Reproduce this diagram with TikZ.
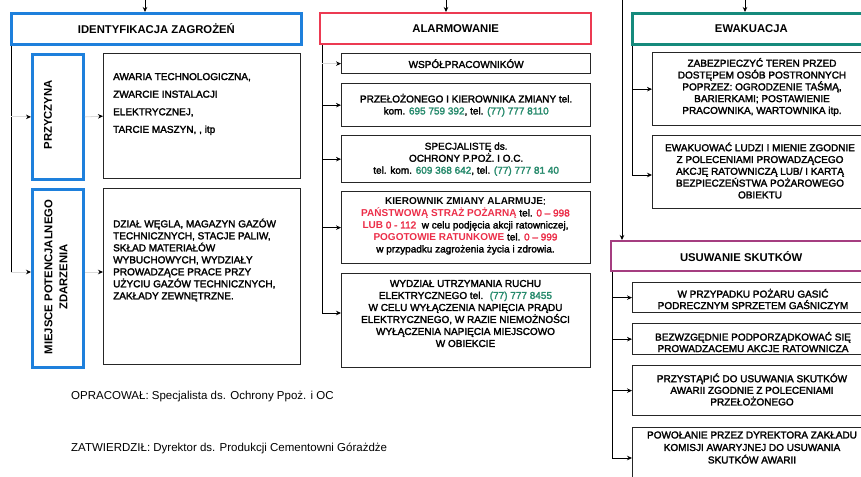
\documentclass[tikz,border=0pt]{standalone}
\usepackage{fontspec}
\setmainfont{Liberation Sans}
\newfontfamily\bodyfont[FakeBold=2.2]{Liberation Sans}
\usetikzlibrary{arrows.meta}
\definecolor{cblue}{RGB}{30,128,220}
\definecolor{cred}{RGB}{236,58,82}
\definecolor{cteal}{RGB}{22,138,124}
\definecolor{cpurple}{RGB}{165,62,128}
\definecolor{ctred}{RGB}{236,45,72}
\definecolor{cgreen}{RGB}{38,138,108}
\newcommand\Bd[1]{{\rmfamily\bfseries #1}}
\tikzset{
  ttl/.style={draw, line width=2.8pt, inner sep=0pt, font=\fontsize{11.3}{13}\selectfont\bfseries},
  bbox/.style={draw=black!85, line width=1.3pt, inner sep=0pt},
  btext/.style={inner sep=0pt, align=center, font=\fontsize{10}{12}\bodyfont},
  ltext/.style={inner sep=0pt, align=left, anchor=west},
  vtext/.style={inner sep=0pt, align=center, rotate=90, font=\fontsize{11.3}{15}\selectfont\bfseries},
  arr/.style={line width=0.8pt, -{Stealth[length=5pt,width=4.5pt]}},
  farr/.style={draw=black!15, line width=0.8pt, -{Stealth[length=5pt,width=4.5pt,color=black]}},
  trunk/.style={line width=0.8pt},
  foot/.style={inner sep=0pt, anchor=west, font=\fontsize{11.5}{13}\selectfont},
}
\begin{document}
\begin{tikzpicture}[x=1pt,y=-1pt]
\useasboundingbox (0,0) rectangle (861,476);
\clip (0,0) rectangle (861,476);
\fill[white] (0,0) rectangle (861,476);

% ---------- left column ----------
\node[ttl, draw=cblue, minimum width=290pt, minimum height=31pt, anchor=north west] (id) at (10,12) {IDENTYFIKACJA ZAGROŻEŃ};
\node[ttl, draw=cblue, minimum width=51pt, minimum height=125pt, anchor=north west] (przy) at (31,53) {};
\node[vtext] (przyT) at (48,115) {PRZYCZYNA};
\node[bbox, minimum width=197pt, minimum height=125pt, anchor=north west] (przyB) at (103,53) {};
\node[ltext, font=\fontsize{10}{17.6}\bodyfont] (przyBT) at (113,104) {AWARIA TECHNOLOGICZNA,\\ZWARCIE INSTALACJI\\ELEKTRYCZNEJ,\\TARCIE MASZYN, , itp};
\node[ttl, draw=cblue, minimum width=51pt, minimum height=178pt, anchor=north west] (miej) at (31,188) {};
\node[vtext] (miejT) at (56,277) {MIEJSCE POTENCJALNEGO\\ZDARZENIA};
\node[bbox, minimum width=197pt, minimum height=176pt, anchor=north west] (miejB) at (103,188) {};
\node[ltext, font=\fontsize{10}{12}\bodyfont] (miejBT) at (113,260) {DZIAŁ WĘGLA, MAGAZYN GAZÓW\\TECHNICZNYCH, STACJE PALIW,\\SKŁAD MATERIAŁÓW\\WYBUCHOWYCH, WYDZIAŁY\\PROWADZĄCE PRACE PRZY\\UŻYCIU GAZÓW TECHNICZNYCH,\\ZAKŁADY ZEWNĘTRZNE.};

\coordinate (topA) at (145,0);
\draw[arr] (topA) -- (topA |- id.north);
\coordinate (idL) at ([xshift=1pt]id.south west);
\coordinate (idE) at (11,272);
\draw[trunk] (idL) -- (idE);
\draw[farr] (idL |- przy.west) -- (przy.west);
\draw[farr] (idE) -- (idE -| miej.west);
\draw[farr] (przy.east) -- (przyB.west);
\draw[farr] (idE -| miej.east) -- (idE -| miejB.west);

% ---------- middle column ----------
\node[ttl, draw=cred, line width=2.4pt, minimum width=271pt, minimum height=31pt, anchor=north west] (alarm) at (319,12) {ALARMOWANIE};
\node[bbox, btext, minimum width=249pt, minimum height=20pt, anchor=north west] (wsp) at (341,53) {WSPÓŁPRACOWNIKÓW};
\node[bbox, btext, minimum width=249pt, minimum height=43pt, anchor=north west] (prze) at (341,83) {PRZEŁOŻONEGO I KIEROWNIKA ZMIANY tel.\\kom. \textcolor{cgreen}{695 759 392}, tel. \textcolor{cgreen}{(77) 777 8110}};
\node[bbox, btext, minimum width=249pt, minimum height=47pt, anchor=north west] (spec) at (341,135) {SPECJALISTĘ ds.\\OCHRONY P.POŻ. I O.C.\\tel. kom. \textcolor{cgreen}{609 368 642}, tel. \textcolor{cgreen}{(77) 777 81 40}};
\node[bbox, minimum width=249pt, minimum height=72pt, anchor=north west] (kier) at (341,191) {};
\node[btext] (kierT) at (465.5,226) {\Bd{KIEROWNIK ZMIANY ALARMUJE}:\\\textcolor{ctred}{\Bd{PAŃSTWOWĄ STRAŻ POŻARNĄ}} tel. \textcolor{ctred}{0 – 998}\\\textcolor{ctred}{\Bd{LUB} 0 - 112}\ \ w celu podjęcia akcji ratowniczej,\\\textcolor{ctred}{\Bd{POGOTOWIE RATUNKOWE}} tel. \textcolor{ctred}{0 – 999}\\w przypadku zagrożenia życia i zdrowia.};
\node[bbox, minimum width=249pt, minimum height=94pt, anchor=north west] (wydz) at (341,273) {};
\node[btext] (wydzT) at (465.5,313.5) {WYDZIAŁ UTRZYMANIA RUCHU\\ELEKTRYCZNEGO tel. \ \textcolor{cgreen}{(77) 777 8455}\\W CELU WYŁĄCZENIA NAPIĘCIA PRĄDU\\ELEKTRYCZNEGO, W RAZIE NIEMOŻNOŚCI\\WYŁĄCZENIA NAPIĘCIA MIEJSCOWO\\W OBIEKCIE};

\coordinate (topB) at (446,0);
\draw[arr] (topB) -- (topB |- alarm.north);
\coordinate (alL) at ([xshift=3pt]alarm.south west);
\coordinate (alE) at (322,313);
\draw[trunk] (alL) -- (alE);
\draw[farr] (alL |- wsp.west) -- (wsp.west);
\draw[arr] (alL |- prze.west) -- (prze.west);
\draw[arr] (alL |- spec.west) -- (spec.west);
\draw[arr] (alL |- kier.west) -- (kier.west);
\draw[arr] (alE) -- (alE -| wydz.west);

% ---------- right column ----------
\node[ttl, draw=cteal, minimum width=238pt, minimum height=31pt, anchor=north west] (ewak) at (631,12) {EWAKUACJA};
\node[bbox, minimum width=230pt, minimum height=73pt, anchor=north west] (zab) at (652,52) {};
\node[btext, font=\fontsize{10}{11.8}\bodyfont] (zabT) at (762,87) {ZABEZPIECZYĆ TEREN PRZED\\DOSTĘPEM OSÓB POSTRONNYCH\\POPRZEZ: OGRODZENIE TAŚMĄ,\\BARIERKAMI; POSTAWIENIE\\PRACOWNIKA, WARTOWNIKA itp.};
\node[bbox, minimum width=230pt, minimum height=73pt, anchor=north west] (ewu) at (652,135) {};
\node[btext, font=\fontsize{10}{11.8}\bodyfont] (ewuT) at (760,170.5) {EWAKUOWAĆ LUDZI I MIENIE ZGODNIE\\Z POLECENIAMI PROWADZĄCEGO\\AKCJĘ RATOWNICZĄ LUB/ I KARTĄ\\BEZPIECZEŃSTWA POŻAROWEGO\\OBIEKTU};

\coordinate (topC) at (745,0);
\draw[arr] (topC) -- (topC |- ewak.north);
\coordinate (ewL) at ([xshift=1pt]ewak.south west);
\coordinate (ewE) at (632,175);
\draw[trunk] (ewL) -- (ewE);
\draw[arr] (ewL |- zab.west) -- (zab.west);
\draw[arr] (ewE) -- (ewE -| ewu.west);

\node[ttl, draw=cpurple, line width=2.4pt, minimum width=260pt, minimum height=30pt, anchor=north west] (usu) at (610,240) {USUWANIE SKUTKÓW};
\coordinate (topU) at (622,0);
\draw[arr] (topU) -- (topU |- usu.north);

\node[bbox, minimum width=250pt, minimum height=30pt, anchor=north west] (b1) at (632,282) {};
\node[btext, font=\fontsize{10}{11.5}\bodyfont] (b1T) at (753,299) {W PRZYPADKU POŻARU GASIĆ\\PODRECZNYM SPRZETEM GAŚNICZYM};
\node[bbox, minimum width=250pt, minimum height=31pt, anchor=north west] (b2) at (632,323) {};
\node[btext, font=\fontsize{10}{11.5}\bodyfont] (b2T) at (753,342) {BEZWZGĘDNIE PODPORZĄDKOWAĆ SIĘ\\PROWADZACEMU AKCJE RATOWNICZA};
\node[bbox, minimum width=250pt, minimum height=50pt, anchor=north west] (b3) at (632,365) {};
\node[btext, font=\fontsize{10}{11.6}\bodyfont] (b3T) at (752,389.5) {PRZYSTĄPIĆ DO USUWANIA SKUTKÓW\\AWARII ZGODNIE Z POLECENIAMI\\PRZEŁOŻONEGO};
\node[bbox, minimum width=250pt, minimum height=63pt, anchor=north west] (b4) at (632,427) {};
\node[btext, font=\fontsize{10}{12.5}\bodyfont] (b4T) at (752,447.5) {POWOŁANIE PRZEZ DYREKTORA ZAKŁADU\\KOMISJI AWARYJNEJ DO USUWANIA\\SKUTKÓW AWARII};

\coordinate (usL) at ([xshift=2pt]usu.south west);
\coordinate (usE) at (612,458);
\draw[trunk] (usL) -- (usE);
\draw[arr] (usL |- b1.west) -- (b1.west);
\draw[arr] (usL |- b2.west) -- (b2.west);
\draw[arr] (usL |- b3.west) -- (b3.west);
\draw[arr] (usE) -- (usE -| b4.west);

% ---------- footer ----------
\node[foot] (op) at (71,397) {OPRACOWAŁ: Specjalista ds. Ochrony Ppoż. i OC};
\node[foot] (za) at (71,448) {ZATWIERDZIŁ: Dyrektor ds. Produkcji Cementowni Górażdże};
\end{tikzpicture}
\end{document}
